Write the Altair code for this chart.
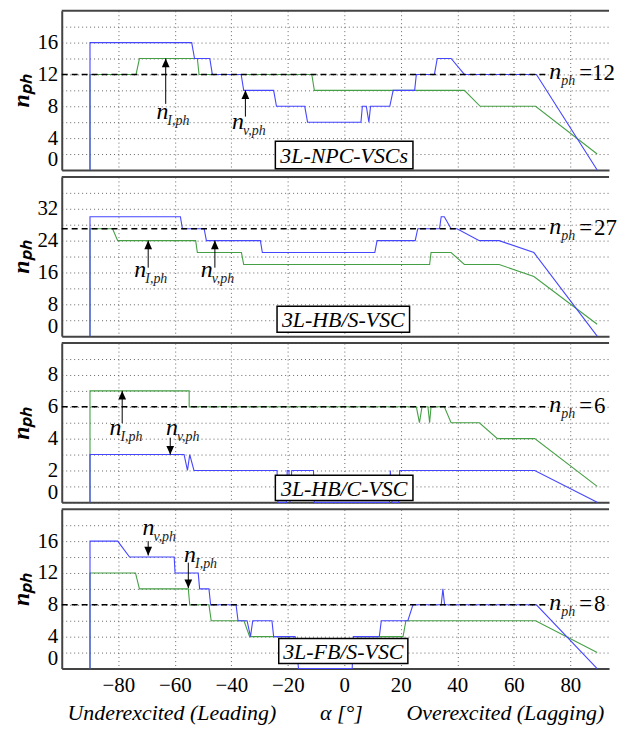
import altair as alt
import pandas as pd

FONT = "'Liberation Serif', 'Times New Roman', Times, serif"
BLUE = "#4646ff"
GREEN = "#45a045"
X_DOMAIN = [-100, 93.7]
W, H = 550, 160

x_ticks = [-80, -60, -40, -20, 0, 20, 40, 60, 80]
X_TITLE = "Underexcited (Leading)\u2003\u2003\u03b1 [\u00b0]\u2003\u2003Overexcited (Lagging)"
Y_TITLE = "n\u209a\u2095"

box_titles = ["3L-NPC-VSCs", "3L-HB/S-VSC", "3L-HB/C-VSC", "3L-FB/S-VSC"]
nph_values = [12, 27, 6, 8]
nph_text = ["=12", "=\u200a27", "=\u200a6", "=\u200a8"]
y_max = [20, 40, 10, 20]
y_grid_step = [2, 4, 1, 2]
y_label_step = [4, 8, 2, 4]

# ---- 3L-NPC-VSCs ----
npc_v_x = [-90, -90, -54, -53, -47.6, -46.7, -36.5, -35.6, -25, -24, -14, -13, 5.9, 6.4, 7.8, 8.7, 9.3,
           16.1, 17.3, 24.9, 25.5, 31.9, 32.9, 37.8, 42.5, 68, 89.5]
npc_v_y = [0, 16, 16, 14, 14, 12, 12, 10, 10, 8, 8, 6, 6, 8, 8, 6, 8,
           8, 10, 10, 12, 12, 14, 14, 12, 12, 0]
npc_i_x = [-90, -90, -73.7, -72.5, -52, -51.4, -11.5, -10.6, 42.5, 48.1, 67.7, 89.5]
npc_i_y = [0, 12, 12, 14, 14, 12, 12, 10, 10, 8, 8, 2]

# ---- 3L-HB/S-VSC ----
hbs_v_x = [-90, -90, -58, -57.3, -49.6, -48.8, -29.7, -29, 10.8, 11.6, 25.1, 26, 33.7, 34.3, 35.4,
           37.8, 39.9, 47.8, 54.8, 67.1, 89.5]
hbs_v_y = [0, 30, 30, 27, 27, 24, 24, 21, 21, 24, 24, 27, 27, 30, 30,
           27, 27, 24, 24, 21, 0]
hbs_i_x = [-90, -90, -82, -80.2, -52.6, -52, -36.4, -35.6, 30.2, 30.7, 37.8, 42.5, 54.8, 67.1, 89.5]
hbs_i_y = [0, 27, 27, 24, 24, 21, 21, 18, 18, 21, 21, 18, 18, 15, 3]

# ---- 3L-HB/C-VSC ----
hbc_v_x = [-90, -90, -56.7, -55.5, -54.7, -53.2, -23.8, -23.5, -20.5, -20.2, -19.6, -19.2, -18.6,
           -10.9, -10.6, 16.0, 16.3, 16.9, 19.3, 19.6, 67.4, 89.5]
hbc_v_y = [0, 3, 3, 2, 3, 2, 2, 0, 0, 2, 2, 0, 2,
           2, 0, 0, 2, 0, 0, 2, 2, 0]
hbc_i_x = [-90, -90, -54.9, -54.9, 25.5, 26.6, 27.5, 29.6, 30.2, 30.7, 35.4, 37.8, 47.8, 54.2, 67.4, 89.5]
hbc_i_y = [0, 7, 7, 6, 6, 5, 6, 6, 5, 6, 6, 5, 5, 4, 4, 1]

# ---- 3L-FB/S-VSC ----
fbs_v_x = [-90, -90, -80.2, -76, -60.2, -59.9, -51.7, -51.2, -47.9, -47.3,
           -38.3, -37.6, -34.4, -33.2, -32.4, -25.6, -25, -17.4, -16.2, 2.8,
           3.2, 12.4, 13.1, 22.5, 24.3, 34.3, 34.9, 35.5, 68, 89.5]
fbs_v_y = [0, 16, 16, 14, 14, 12, 12, 10, 10, 8,
           8, 6, 6, 4, 6, 6, 4, 4, 0, 0,
           4, 4, 6, 6, 8, 8, 10, 8, 8, 0]
fbs_i_x = [-90, -90, -73.9, -72.5, -55.2, -54.7, -47.9, -47.1, -35.5, -33.5, -19.7, -19.2, 4.3, 4.8,
           20.8, 21.8, 67.7, 89.5]
fbs_i_y = [0, 12, 12, 10, 10, 8, 8, 6, 6, 4, 4, 2, 2, 4,
           4, 6, 6, 2]

v_series = [(npc_v_x, npc_v_y), (hbs_v_x, hbs_v_y), (hbc_v_x, hbc_v_y), (fbs_v_x, fbs_v_y)]
i_series = [(npc_i_x, npc_i_y), (hbs_i_x, hbs_i_y), (hbc_i_x, hbc_i_y), (fbs_i_x, fbs_i_y)]

# label boxes (data coordinates)
box_x0 = [-24.4, -23.8, -24.4, -23.2]
box_x1 = [24.3, 23.1, 24.3, 22.5]
box_y0 = [0.15, 1.0, 0.12, 0.64]
box_y1 = [3.6, 7.5, 1.7, 3.76]

# annotation arrows: (x, tail y, head y)
arrows = [
    [(-63.2, 8.3, 14.0), (-35.0, 6.7, 10.0)],
    [(-69.4, 17.2, 24.0), (-45.8, 17.2, 24.0)],
    [(-78.6, 4.97, 7.0), (-61.6, 4.06, 3.0)],
    [(-69.4, 16.0, 14.2), (-55.2, 13.3, 10.1)],
]
# annotation labels: (x, y baseline, subscript)
labels = [
    [(-66.5, 6.45, "I,ph"), (-39.7, 5.2, "v,ph")],
    [(-74.3, 14.8, "I,ph"), (-50.8, 14.8, "v,ph")],
    [(-83.1, 4.2, "I,ph"), (-63.1, 4.2, "v,ph")],
    [(-71.4, 16.8, "v,ph"), (-56.7, 13.4, "I,ph")],
]
dash_end = 71.5

UP = "M0,0L-0.45,1L0.45,1Z"
DOWN = "M0,0L-0.45,-1L0.45,-1Z"


def line_df(xs, ys):
    return pd.DataFrame({"x": xs, "y": ys, "o": list(range(len(xs)))})


def make_panel(i, bottom):
    ymax = y_max[i]
    yvals = list(range(0, ymax, y_grid_step[i]))
    xaxis_kw = dict(values=x_ticks, ticks=False, grid=True, labels=bottom, labelOverlap=False,
                    minExtent=0)
    if bottom:
        xaxis_kw.update(title=X_TITLE, labelPadding=6, titlePadding=7,
                        titleFont=FONT, titleFontSize=22, titleFontStyle="italic",
                        titleFontWeight="normal")
    else:
        xaxis_kw.update(title=None, maxExtent=0)
    xaxis = alt.Axis(**xaxis_kw)
    yaxis = alt.Axis(values=yvals, ticks=False, grid=True, title=Y_TITLE,
                     labelExpr=f"datum.value % {y_label_step[i]} == 0 ? datum.label : ''",
                     labelFlush=True, labelOverlap=False, labelPadding=4,
                     titleX=-28, titleY=H / 2, titleAngle=270, titleBaseline="bottom",
                     titleAlign="center", titleFont=FONT, titleFontSize=24,
                     titleFontStyle="italic", titleFontWeight="bold")
    xsc = alt.Scale(domain=X_DOMAIN, nice=False, zero=False)
    ysc = alt.Scale(domain=[0, ymax], nice=False, zero=False)
    xs = alt.X("x:Q", scale=xsc, axis=xaxis)
    ys = alt.Y("y:Q", scale=ysc, axis=yaxis)

    layers = []
    ix, iy = i_series[i]
    vx, vy = v_series[i]
    layers.append(alt.Chart(line_df(ix, iy)).mark_line(color=GREEN, strokeWidth=1.1)
                  .encode(x=xs, y=ys, order="o:Q"))
    layers.append(alt.Chart(line_df(vx, vy)).mark_line(color=BLUE, strokeWidth=1.1)
                  .encode(x=xs, y=ys, order="o:Q"))
    # dashed n_ph line
    dash = pd.DataFrame({"x": [X_DOMAIN[0]], "x2": [dash_end], "y": [nph_values[i]]})
    layers.append(alt.Chart(dash).mark_rule(color="black", strokeWidth=1.5, strokeDash=[6, 4])
                  .encode(x=xs, x2="x2:Q", y=ys))
    # top border
    top = pd.DataFrame({"y": [ymax]})
    layers.append(alt.Chart(top).mark_rule(color="#444", strokeWidth=2).encode(y=ys))
    # label box
    box = pd.DataFrame({"x": [box_x0[i]], "x2": [box_x1[i]], "y": [box_y0[i]], "y2": [box_y1[i]],
                        "tx": [(box_x0[i] + box_x1[i]) / 2], "ty": [(box_y0[i] + box_y1[i]) / 2],
                        "t": [box_titles[i]]})
    layers.append(alt.Chart(box).mark_rect(fill="white", stroke="black", strokeWidth=1.5)
                  .encode(x=xs, x2="x2:Q", y=ys, y2="y2:Q"))
    layers.append(alt.Chart(box).mark_text(font=FONT, fontSize=22, fontStyle="italic",
                                           align="center", baseline="middle", dy=1, color="black")
                  .encode(x=alt.X("tx:Q", scale=xsc, axis=xaxis),
                          y=alt.Y("ty:Q", scale=ysc, axis=yaxis),
                          text="t:N"))
    # arrows
    arr = pd.DataFrame({"x": [a[0] for a in arrows[i]], "y": [a[1] for a in arrows[i]],
                        "y2": [a[2] for a in arrows[i]],
                        "shape": [UP if a[2] > a[1] else DOWN for a in arrows[i]]})
    layers.append(alt.Chart(arr).mark_rule(color="black", strokeWidth=1)
                  .encode(x=xs, y=ys, y2="y2:Q"))
    heads = pd.DataFrame({"x": arr["x"], "y": arr["y2"], "shape": arr["shape"]})
    layers.append(alt.Chart(heads).mark_point(filled=True, color="black", opacity=1, size=300, strokeWidth=0)
                  .encode(x=xs, y=ys, shape=alt.Shape("shape:N", scale=None)))
    # annotation labels
    lab = pd.DataFrame({"x": [l[0] for l in labels[i]], "y": [l[1] for l in labels[i]],
                        "n": ["n"] * len(labels[i]), "s": [l[2] for l in labels[i]]})
    layers.append(alt.Chart(lab).mark_text(font=FONT, fontSize=24, fontStyle="italic", align="left",
                                           baseline="alphabetic", color="black")
                  .encode(x=xs, y=ys, text="n:N"))
    layers.append(alt.Chart(lab).mark_text(font=FONT, fontSize=14, fontStyle="italic", align="left",
                                           baseline="alphabetic", dx=11, dy=6, color="#222")
                  .encode(x=xs, y=ys, text="s:N"))
    # n_ph = value text
    nt = pd.DataFrame({"x": [dash_end], "y": [nph_values[i]], "n": ["n"], "s": ["ph"], "v": [nph_text[i]]})
    layers.append(alt.Chart(nt).mark_text(font=FONT, fontSize=24, fontStyle="italic", align="left",
                                          baseline="alphabetic", dx=3, dy=5, color="black")
                  .encode(x=xs, y=ys, text="n:N"))
    layers.append(alt.Chart(nt).mark_text(font=FONT, fontSize=14, fontStyle="italic", align="left",
                                          baseline="alphabetic", dx=15, dy=11, color="#222")
                  .encode(x=xs, y=ys, text="s:N"))
    layers.append(alt.Chart(nt).mark_text(font=FONT, fontSize=23, align="left",
                                          baseline="alphabetic", dx=33, dy=6, color="black")
                  .encode(x=xs, y=ys, text="v:N"))
    return alt.layer(*layers).properties(width=W, height=H)


panels = [make_panel(k, k == 3) for k in range(4)]

chart = (
    alt.vconcat(*panels, spacing=3)
    .properties(padding={"left": 2, "top": 0, "right": 0, "bottom": 0}, background="white")
    .configure_view(stroke=None)
    .configure_axis(
        labelFont=FONT, labelFontSize=21, labelColor="black",
        domain=True, domainColor="#444", domainWidth=2,
        gridColor="#666", gridDash=[1, 3], gridWidth=1, gridOpacity=1,
        titleColor="black",
    )
)

chart.save("out.html", embed_options={"renderer": "svg", "actions": False})
